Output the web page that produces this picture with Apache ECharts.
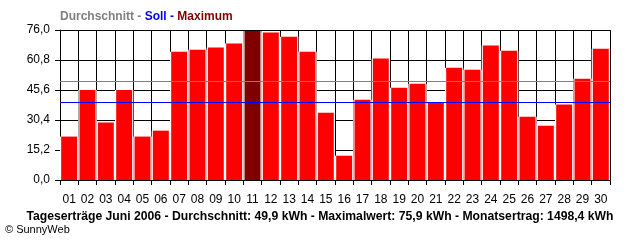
<!DOCTYPE html>
<html>
<head>
<meta charset="utf-8">
<script src="https://cdn.jsdelivr.net/npm/echarts@6/dist/echarts.min.js"></script>
<style>html,body{margin:0;padding:0;background:#fff}#c{width:640px;height:240px}</style>
</head>
<body>
<div id="c"></div>
<script>
var days = ['01','02','03','04','05','06','07','08','09','10','11','12','13','14','15','16','17','18','19','20','21','22','23','24','25','26','27','28','29','30'];
var values = [22.0,45.6,29.1,45.6,22.0,25.0,65.0,66.0,67.1,69.1,75.9,74.7,72.6,65.0,34.1,12.3,40.7,61.5,46.8,48.8,39.2,56.9,55.9,68.1,65.5,32.1,27.5,38.2,51.3,66.5];
var average = 49.9;
var target = 39.2;
var maxValue = 75.9;
var monthTotal = 1498.4;

var fmt = function (v) { return v.toFixed(1).replace('.', ','); };
var font = 'Arial, "Liberation Sans", sans-serif';

var chart = echarts.init(document.getElementById('c'), null, {renderer: 'canvas'});
chart.setOption({
  animation: false,
  backgroundColor: '#ffffff',
  title: [
    {
      left: 60, top: 11, padding: 0,
      text: '{a|Durchschnitt -} {b|Soll -} {c|Maximum}',
      textStyle: {
        fontFamily: font, fontSize: 12, fontWeight: 'bold',
        rich: {
          a: {color: '#808080', fontFamily: font, fontSize: 12, fontWeight: 'bold'},
          b: {color: '#0000ff', fontFamily: font, fontSize: 12, fontWeight: 'bold'},
          c: {color: '#800000', fontFamily: font, fontSize: 12, fontWeight: 'bold'}
        }
      }
    },
    {
      left: 'center', top: 211, padding: 0,
      text: 'Tageserträge Juni 2006 - Durchschnitt: ' + fmt(average) + ' kWh - Maximalwert: ' + fmt(maxValue) + ' kWh - Monatsertrag: ' + fmt(monthTotal) + ' kWh',
      textStyle: {fontFamily: font, fontSize: 12.2, fontWeight: 'bold', color: '#000'}
    },
    {
      left: 5, top: 224, padding: 0,
      text: '© SunnyWeb',
      textStyle: {fontFamily: font, fontSize: 11, fontWeight: 'normal', color: '#000'}
    }
  ],
  grid: {left: 60, right: 30, top: 30, height: 150},
  xAxis: [{
    type: 'category',
    data: days,
    boundaryGap: true,
    axisLine: {show: true, lineStyle: {color: '#000', width: 1}},
    axisTick: {show: true, interval: 0, length: 5, lineStyle: {color: '#000'}},
    axisLabel: {interval: 0, color: '#000', fontFamily: font, fontSize: 12, margin: 14},
    splitLine: {show: true, interval: 0, lineStyle: {color: '#000', width: 1}}
  }, {
    type: 'category',
    data: days,
    show: false,
    position: 'bottom',
    boundaryGap: true
  }],
  yAxis: {
    type: 'value',
    min: 0, max: 76, interval: 15.2,
    axisLine: {show: true, lineStyle: {color: '#000', width: 1}},
    axisTick: {show: true, length: 5, lineStyle: {color: '#000'}},
    axisLabel: {color: '#000', fontFamily: font, fontSize: 12, margin: 10, formatter: function (v) { return fmt(v); }},
    splitLine: {show: true, lineStyle: {color: '#000', width: 1}}
  },
  series: [{
    type: 'bar',
    xAxisIndex: 1,
    barCategoryGap: '0%',
    silent: true,
    z: 1,
    data: values,
    itemStyle: {color: '#ffffff'}
  }, {
    type: 'bar',
    xAxisIndex: 0,
    barCategoryGap: '13%',
    z: 2,
    data: values.map(function (v) {
      return {value: v, itemStyle: {color: v === maxValue ? '#800000' : '#ff0000'}};
    }),
    markLine: {
      silent: true,
      symbol: ['none', 'none'],
      label: {show: false},
      animation: false,
      data: [
        {yAxis: 0, lineStyle: {color: '#000000', width: 1, type: 'solid'}},
        {yAxis: 76, lineStyle: {color: '#000000', width: 1, type: 'solid'}},
        {yAxis: average, lineStyle: {color: '#808080', width: 1, type: 'solid'}},
        {yAxis: target, lineStyle: {color: '#0000ff', width: 1, type: 'solid'}}
      ]
    }
  }]
});
</script>
</body>
</html>
